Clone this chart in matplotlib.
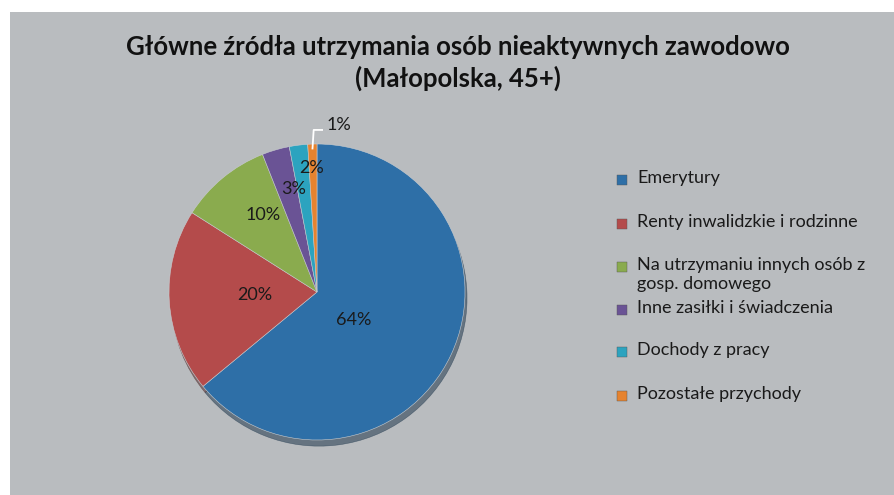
import numpy as np
import matplotlib.pyplot as plt
from matplotlib.patches import Rectangle

title = "Główne źródła utrzymania osób nieaktywnych zawodowo\n(Małopolska, 45+)"
categories = ["Emerytury", "Renty inwalidzkie i rodzinne",
              "Na utrzymaniu innych osób z\ngosp. domowego",
              "Inne zasiłki i świadczenia", "Dochody z pracy", "Pozostałe przychody"]
shares = [64, 20, 10, 3, 2, 1]
colors = ["#2e6fa7", "#b44b4b", "#8aab4e", "#6a5395", "#2ca3bf", "#e6832f"]
# label placement inside slices: (radial distance, angle shift in degrees)
label_dist = [0.31, 0.42, 0.635, 0.71, 0.84]
label_shift = [-12.7, -0.8, -4.6, -3.5, -4.9]

plt.rcParams['font.family'] = ['Lato', 'DejaVu Sans']
bg = "#b9bcbf"
W, H = 895, 495

fig = plt.figure(figsize=(8.95, 4.95), dpi=100)
fig.patch.set_facecolor("white")
fig.patches.append(Rectangle((10 / W, 0), 1, 1 - 12 / H, transform=fig.transFigure,
                             facecolor=bg, edgecolor="none", zorder=-10))

fig.text(458 / W, 1 - 63 / H, title, ha="center", va="center", fontsize=18.5, fontweight="bold",
         color="#111111", linespacing=1.3)

# pie: centre (317, 292), radius 148 px
r = 148
ax = fig.add_axes([(317 - r) / W, (H - 292 - r) / H, 2 * r / W, 2 * r / H])
ax.set_facecolor("none")
wedges, _ = ax.pie(shares, colors=colors, startangle=90, counterclock=False,
                   wedgeprops=dict(edgecolor="#c8ccd0", linewidth=0.4),
                   shadow=dict(ox=0.01, oy=-0.03, shade=0.6))

for i, w in enumerate(wedges):
    mid = (w.theta1 + w.theta2) / 2
    if i < len(label_dist):
        ang = np.deg2rad(mid + label_shift[i])
        d = label_dist[i]
        ax.text(d * np.cos(ang), d * np.sin(ang), f"{shares[i]}%", ha="center", va="center",
                fontsize=13, color="#1a1a1a")
    else:
        ang = np.deg2rad(mid)
        x0, y0 = 0.97 * np.cos(ang), 0.97 * np.sin(ang)
        ax.plot([x0, x0 + 0.008, x0 + 0.065], [y0, 1.095, 1.095], color="white", lw=1.3,
                clip_on=False)
        ax.text(x0 + 0.095, 1.13, f"{shares[i]}%", ha="left", va="center",
                fontsize=13, color="#1a1a1a")
ax.set_xlim(-1, 1)
ax.set_ylim(-1, 1)
ax.set_aspect("auto")
ax.axis("off")

# legend
ys = [180, 224, 267, 310, 352, 396]
for y, lab, c in zip(ys, categories, colors):
    fig.patches.append(Rectangle((617 / W, 1 - (y + 5) / H), 10 / W, 10 / H,
                                 transform=fig.transFigure, facecolor=c,
                                 edgecolor="#555555", linewidth=0.3))
    fig.text(637 / W, 1 - (y - 10) / H, lab, ha="left", va="top", fontsize=13,
             color="#1a1a1a", linespacing=1.2)

fig.savefig("out.png", dpi=100, facecolor=fig.get_facecolor())
